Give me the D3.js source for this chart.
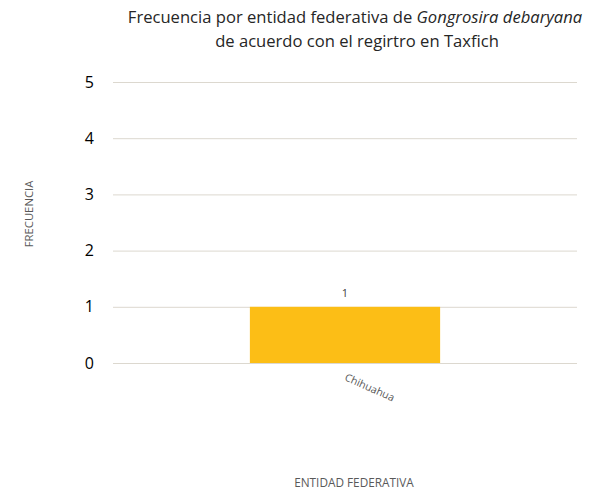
<!DOCTYPE html>
<html>
<head>
<meta charset="utf-8">
<script src="https://cdn.jsdelivr.net/npm/d3@7"></script>
<style>
  body { margin: 0; background: #fff; }
  svg { display: block; font-family: "Open Sans", "Noto Sans", sans-serif; }
</style>
</head>
<body>
<svg id="chart" width="600" height="494"></svg>
<script>
// Frequency records per federal entity
const categories = ["Chihuahua"];
const values = [1];
const yTicks = [0, 1, 2, 3, 4, 5];

const svg = d3.select("#chart");
const margin = { left: 113, right: 23, top: 82, bottom: 131 };
const width = 600 - margin.left - margin.right;
const height = 494 - margin.top - margin.bottom;

const x = d3.scaleBand().domain(categories).range([margin.left, margin.left + width]).paddingInner(0.59).paddingOuter(0.295);
const y = d3.scaleLinear().domain([0, 5]).range([margin.top + height, margin.top]);

// gridlines
const yAxis = d3.axisLeft(y).tickValues(yTicks).tickSize(-width).tickPadding(19).tickFormat(d3.format("d"));
const gy = svg.append("g").attr("transform", `translate(${margin.left},0)`).call(yAxis);
gy.select(".domain").remove();
gy.selectAll(".tick line").attr("stroke", "#dcd8cf").attr("stroke-width", 1);
gy.selectAll(".tick text").attr("fill", "#000").attr("font-size", 16).attr("font-family", "Open Sans, sans-serif");

// bars
svg.selectAll("rect.bar").data(categories).join("rect")
  .attr("class", "bar")
  .attr("x", d => x(d))
  .attr("width", x.bandwidth())
  .attr("y", (d, i) => y(values[i]))
  .attr("height", (d, i) => y(0) - y(values[i]))
  .attr("fill", "#fcbe16");

// value labels
svg.selectAll("text.val").data(categories).join("text")
  .attr("class", "val")
  .attr("x", d => x(d) + x.bandwidth() / 2)
  .attr("y", (d, i) => y(values[i]) - 10)
  .attr("text-anchor", "middle")
  .attr("font-size", 11)
  .attr("fill", "#404040")
  .text((d, i) => values[i]);

// category labels, rotated
svg.selectAll("text.cat").data(categories).join("text")
  .attr("class", "cat")
  .attr("transform", d => `translate(${x(d) + x.bandwidth() / 2 - 1},${y(0) + 17}) rotate(24)`)
  .attr("font-size", 10.5)
  .attr("fill", "#595959")
  .text(d => d);

// axis titles
svg.append("text")
  .attr("transform", `translate(33,214) rotate(-90)`)
  .attr("text-anchor", "middle")
  .attr("font-size", 11.3)
  .attr("fill", "#595959")
  .text("FRECUENCIA");

svg.append("text")
  .attr("x", 354).attr("y", 487)
  .attr("text-anchor", "middle")
  .attr("font-size", 11.8)
  .attr("fill", "#595959")
  .text("ENTIDAD FEDERATIVA");

// title
const title = svg.append("text").attr("text-anchor", "middle").attr("font-size", 16.6).attr("fill", "#262626");
const l1 = title.append("tspan").attr("x", 355).attr("y", 23);
l1.append("tspan").text("Frecuencia por entidad federativa de ");
l1.append("tspan").attr("font-style", "italic").text("Gongrosira debaryana");
title.append("tspan").attr("x", 357).attr("y", 47).text("de acuerdo con el regirtro en Taxfich");
</script>
</body>
</html>
